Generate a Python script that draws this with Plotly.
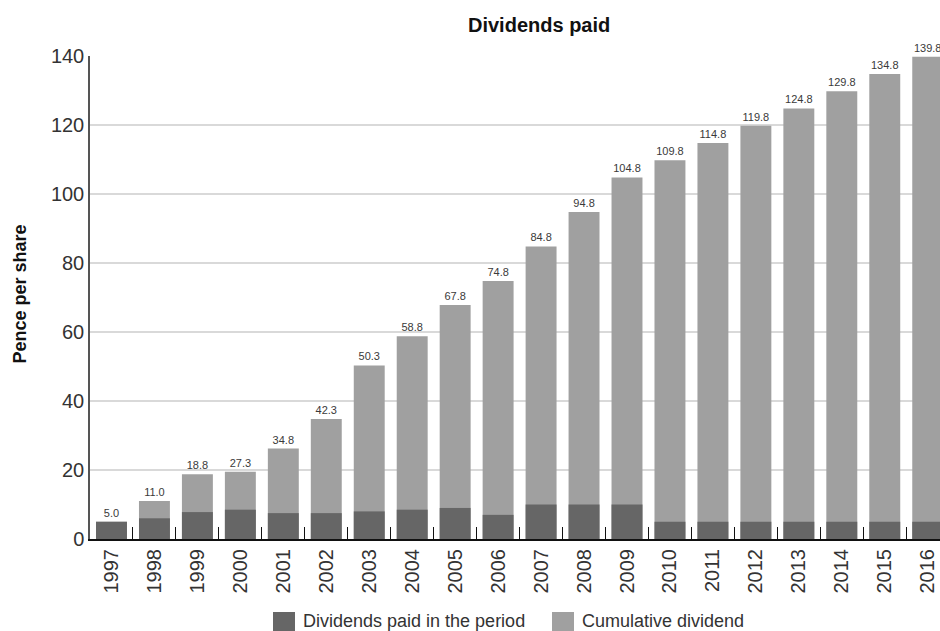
import plotly.graph_objects as go

years = [str(y) for y in range(1997, 2017)]
cumulative_bar = [5.0, 11.0, 18.8, 19.5, 26.2, 34.8, 50.3, 58.8, 67.8, 74.8,
                  84.8, 94.8, 104.8, 109.8, 114.8, 119.8, 124.8, 129.8, 134.8, 139.8]
cumulative_labels = ["5.0", "11.0", "18.8", "27.3", "34.8", "42.3", "50.3", "58.8", "67.8", "74.8",
                     "84.8", "94.8", "104.8", "109.8", "114.8", "119.8", "124.8", "129.8", "134.8", "139.8"]
paid_in_period = [5.0, 6.0, 7.8, 8.5, 7.5, 7.5, 8.0, 8.5, 9.0, 7.0,
                  10.0, 10.0, 10.0, 5.0, 5.0, 5.0, 5.0, 5.0, 5.0, 5.0]

DARK = "#666666"
LIGHT = "#a0a0a0"
FONT = "Liberation Sans, Arial, sans-serif"

W, H = 940, 631
L, R, T, B = 90, 0, 56, 92
pw, ph = W - L - R, H - T - B
band = 42.96

def px(x):
    return (x - L) / pw

def py(y):
    return (H - B - y) / ph

fig = go.Figure()
fig.add_trace(go.Bar(
    x=years, y=cumulative_bar, name="Cumulative dividend",
    marker=dict(color=LIGHT, line=dict(width=0)),
    text=cumulative_labels, textposition="outside", textangle=0,
    constraintext="none", cliponaxis=False,
    textfont=dict(family=FONT, size=11, color="#3a3a3a"),
    hoverinfo="x+y", showlegend=False,
))
fig.add_trace(go.Bar(
    x=years, y=paid_in_period, name="Dividends paid in the period",
    marker=dict(color=DARK, line=dict(width=0)),
    hoverinfo="x+y", showlegend=False,
))

shapes = [
    dict(type="rect", xref="paper", yref="paper", x0=px(273), x1=px(295), y0=py(634), y1=py(612),
         fillcolor=DARK, line=dict(width=0), layer="above"),
    dict(type="rect", xref="paper", yref="paper", x0=px(552), x1=px(574), y0=py(634), y1=py(612),
         fillcolor=LIGHT, line=dict(width=0), layer="above"),
]
annotations = [
    dict(text="Dividends paid in the period", xref="paper", yref="paper", x=px(301), y=py(621),
         xanchor="left", yanchor="middle", showarrow=False,
         font=dict(family=FONT, size=18, color="#333333")),
    dict(text="Cumulative dividend", xref="paper", yref="paper", x=px(580), y=py(621),
         xanchor="left", yanchor="middle", showarrow=False,
         font=dict(family=FONT, size=18, color="#333333")),
    dict(text="<b>Pence per share</b>", xref="paper", yref="paper", x=px(19.5), y=py(294),
         xanchor="center", yanchor="middle", textangle=-90, showarrow=False,
         font=dict(family=FONT, size=18, color="#111111")),
    dict(text="<b>Dividends paid</b>", xref="paper", yref="paper", x=px(539), y=py(25),
         xanchor="center", yanchor="middle", showarrow=False,
         font=dict(family=FONT, size=20, color="#111111")),
]

fig.update_layout(
    width=W, height=H,
    margin=dict(l=L, r=R, t=T, b=B, pad=0),
    paper_bgcolor="white", plot_bgcolor="white",
    barmode="overlay", bargap=0.28,
    showlegend=False,
    font=dict(family=FONT, color="#333333"),
    shapes=shapes, annotations=annotations,
)
fig.update_xaxes(
    type="category", categoryorder="array", categoryarray=years,
    range=[-0.5, -0.5 + pw / band],
    tickson="boundaries", ticks="inside", ticklen=12, tickwidth=1, tickcolor="#111111",
    showline=True, linecolor="#111111", linewidth=2,
    tickangle=-90, tickfont=dict(family=FONT, size=20, color="#333333"),
    showgrid=False,
)
fig.update_yaxes(
    range=[0, 140], dtick=20, tick0=0,
    showgrid=True, gridcolor="#d9d9d9", gridwidth=1.5,
    showline=True, linecolor="#555555", linewidth=1.5,
    ticks="", zeroline=False,
    tickfont=dict(family=FONT, size=20, color="#333333"),
)

fig.write_html("out.html")
